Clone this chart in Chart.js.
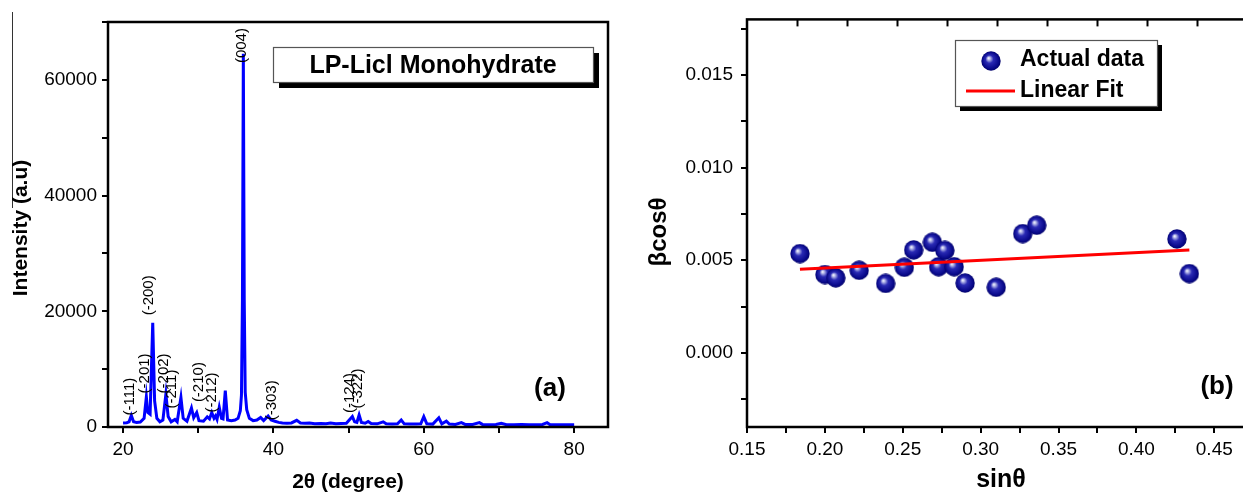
<!DOCTYPE html>
<html>
<head>
<meta charset="utf-8">
<script src="https://cdn.jsdelivr.net/npm/chart.js@4.4.1/dist/chart.umd.min.js"></script>
<style>
  html, body { margin: 0; padding: 0; background: #fff; overflow: hidden; }
  body { width: 1243px; height: 494px; position: relative; }
  #xrdChart { position: absolute; left: 0; top: 0; }
  #whChart { position: absolute; left: 620px; top: 0; }
  .edge-line { position: absolute; left: 12px; top: 12px; width: 1px; height: 196px; background: #333; }
</style>
</head>
<body>
<div class="edge-line"></div>
<canvas id="xrdChart" width="620" height="494"></canvas>
<canvas id="whChart" width="640" height="494"></canvas>
<script>
// XRD pattern (a)
const twoTheta = [
  20.0, 20.5, 20.8, 21.1, 21.4, 21.8, 22.3, 22.8, 23.1, 23.3, 23.6, 23.95, 24.2, 24.5, 24.9,
  25.3, 25.7, 26.0, 26.4, 26.9, 27.2, 27.7, 28.0, 28.5, 29.1, 29.4, 29.8, 30.1, 30.7, 31.2,
  31.5, 31.8, 32.1, 32.3, 32.5, 32.8, 33.1, 33.3, 33.6, 33.9, 34.4, 34.9, 35.3, 35.6, 35.75,
  35.88, 36.0, 36.12, 36.25, 36.45, 36.8, 37.3, 37.8, 38.3, 38.7, 39.3, 39.7, 40.2, 40.7, 41.2,
  41.8, 42.4, 43.1, 43.6, 44.2, 44.8, 45.5, 46.3, 47.0, 47.6, 48.3, 49.0, 49.7, 50.5, 50.8,
  51.1, 51.4, 51.7, 52.2, 52.6, 53.0, 53.8, 54.6, 55.0, 55.8, 56.5, 57.0, 57.4, 58.2, 59.0,
  59.6, 60.0, 60.4, 61.2, 62.0, 62.4, 63.0, 63.4, 64.2, 65.0, 65.5, 66.5, 67.4, 67.8, 68.8,
  69.6, 70.3, 71.0, 72.0, 73.0, 74.0, 75.0, 75.8, 76.4, 76.8, 77.5, 78.5, 79.5, 80.0
];
const intensity = [
  700, 750, 900, 2000, 900, 800, 850, 1500, 5200, 2500, 2200, 18000, 4500, 1500, 900,
  1200, 5700, 1800, 900, 1300, 900, 5100, 1500, 1000, 3300, 1600, 2500, 1100, 1000, 1750,
  1400, 2500, 1500, 1900, 1300, 3400, 1500, 1400, 6300, 1200, 1100, 1200, 1500, 2800, 5500,
  22000, 64500, 22000, 6000, 3000, 1500, 1100, 1200, 1650, 1100, 1900, 1200, 1000, 800, 700,
  650, 700, 1150, 700, 650, 700, 550, 600, 550, 700, 550, 600, 650, 1800, 900,
  800, 2100, 800, 650, 950, 600, 550, 900, 550, 500, 550, 1200, 550, 500, 500,
  550, 1800, 550, 500, 1600, 550, 1000, 500, 450, 750, 450, 450, 750, 450, 400,
  450, 650, 400, 400, 450, 400, 400, 450, 750, 400, 400, 400, 400, 400
];
const peakLabels = ['(-111)', '(-201)', '(-200)', '(-202)', '(-211)', '(-210)', '(-212)', '(004)', '(-303)', '(-124)', '(-322)'];
const peakLabelX = [20.9, 22.9, 23.4, 25.4, 26.5, 30.05, 31.8, 35.8, 39.8, 50.2, 51.2];
const peakLabelY = [2000, 5800, 19300, 5800, 3200, 4300, 2500, 62900, 1150, 2400, 3200];

// Williamson-Hall plot (b)
const sinTheta = [0.184, 0.200, 0.207, 0.222, 0.239, 0.251, 0.257, 0.269, 0.273, 0.277, 0.283, 0.290, 0.310, 0.327, 0.336, 0.426, 0.434];
const betaCosTheta = [0.00536, 0.00423, 0.00405, 0.00446, 0.00375, 0.00462, 0.00556, 0.00597, 0.00465, 0.00553, 0.00465, 0.00377, 0.00354, 0.00644, 0.00689, 0.00615, 0.00428];
const fitX = [0.184, 0.434];
const fitY = [0.00451, 0.00556];

const FONT = '"Liberation Sans", Arial, sans-serif';

function sphereImage(size) {
    const c = document.createElement('canvas');
    c.width = size; c.height = size;
    const g = c.getContext('2d');
    const r = size / 2;
    const grad = g.createRadialGradient(r * 0.75, r * 0.7, 0, r, r, r);
    grad.addColorStop(0, '#ffffff');
    grad.addColorStop(0.12, '#c8cbf0');
    grad.addColorStop(0.4, '#2a2ab4');
    grad.addColorStop(0.8, '#0a0a8c');
    grad.addColorStop(1, '#000066');
    g.fillStyle = grad;
    g.beginPath();
    g.arc(r, r, r - 0.3, 0, Math.PI * 2);
    g.fill();
    return c;
}
const sphere = sphereImage(20);

function axisBase(extra) {
    return Object.assign({
        type: 'linear',
        border: { display: false },
        grid: { drawOnChartArea: false, color: '#000', lineWidth: 2, tickLength: 6 },
    }, extra);
}

function tickFont() {
    return { family: FONT, size: 19 };
}

function shadowBox(ctx, x, y, w, h, off) {
    ctx.save();
    ctx.fillStyle = '#000';
    ctx.fillRect(x + off, y + off, w, h);
    ctx.fillStyle = '#fff';
    ctx.fillRect(x, y, w, h);
    ctx.strokeStyle = '#555';
    ctx.lineWidth = 1.2;
    ctx.strokeRect(x + 0.5, y + 0.5, w, h);
    ctx.restore();
}

function drawText(ctx, text, x, y, font, rot, align) {
    ctx.save();
    ctx.translate(x, y);
    if (rot) ctx.rotate(rot);
    ctx.font = font;
    ctx.fillStyle = '#000';
    ctx.textAlign = align || 'center';
    ctx.textBaseline = 'middle';
    ctx.fillText(text, 0, 0);
    ctx.restore();
}

const xrdDecor = {
    id: 'xrdDecor',
    afterDraw(chart) {
        const { ctx, chartArea: a, scales } = chart;
        ctx.save();
        ctx.strokeStyle = '#000';
        ctx.lineWidth = 2.5;
        ctx.strokeRect(a.left, a.top, a.right - a.left, a.bottom - a.top);
        ctx.restore();

        peakLabels.forEach((t, i) => {
            const px = scales.x.getPixelForValue(peakLabelX[i]);
            const py = scales.y.getPixelForValue(peakLabelY[i]);
            drawText(ctx, t, px, py, '15px ' + FONT, -Math.PI / 2, 'left');
        });

        shadowBox(ctx, 273, 47, 320, 35, 6);
        drawText(ctx, 'LP-Licl Monohydrate', 433, 66, 'bold 25px ' + FONT);
        drawText(ctx, '(a)', 550, 389, 'bold 26px ' + FONT);

        drawText(ctx, 'Intensity (a.u)', 21, 228, 'bold 21px ' + FONT, -Math.PI / 2);
        drawText(ctx, '2\u03b8 (degree)', 348, 482, 'bold 21px ' + FONT);
    }
};

new Chart(document.getElementById('xrdChart'), {
    type: 'scatter',
    data: {
        datasets: [{
            label: 'XRD',
            data: twoTheta.map((x, i) => ({ x, y: intensity[i] })),
            showLine: true,
            borderColor: '#0000ff',
            borderWidth: 3,
            pointRadius: 0,
            tension: 0
        }]
    },
    options: {
        responsive: false,
        animation: false,
        devicePixelRatio: 1,
        layout: { padding: { top: 22, right: 12, left: 0, bottom: 0 } },
        plugins: { legend: { display: false }, tooltip: { enabled: false } },
        scales: {
            x: axisBase({
                min: 18, max: 84.5,
                afterFit: s => { s.height = 67; },
                ticks: {
                    stepSize: 10, includeBounds: false, autoSkip: false, maxRotation: 0,
                    padding: 5, color: '#000', font: tickFont(),
                    callback: v => (v % 20 === 0 ? String(v) : '')
                }
            }),
            y: axisBase({
                min: 0, max: 70000,
                afterFit: s => { s.width = 108; },
                ticks: {
                    stepSize: 10000, includeBounds: false, autoSkip: false,
                    padding: 5, color: '#000', font: tickFont(),
                    callback: v => (v % 20000 === 0 ? String(v) : '')
                }
            })
        }
    },
    plugins: [xrdDecor]
});

const whDecor = {
    id: 'whDecor',
    afterDraw(chart) {
        const { ctx, chartArea: a, scales } = chart;
        ctx.save();
        ctx.strokeStyle = '#000';
        ctx.lineWidth = 2.5;
        ctx.strokeRect(a.left, a.top, a.right - a.left, a.bottom - a.top);
        ctx.lineWidth = 2;
        scales.x2.ticks.forEach(t => {
            if (t.value <= scales.x2.min || t.value >= scales.x2.max) return;
            const px = Math.round(scales.x2.getPixelForValue(t.value)) + 0.5;
            ctx.beginPath();
            ctx.moveTo(px, a.top);
            ctx.lineTo(px, a.top + 7);
            ctx.stroke();
        });
        ctx.restore();

        // legend
        shadowBox(ctx, 335, 40, 202, 66, 5);
        ctx.drawImage(sphere, 371 - sphere.width / 2, 61 - sphere.height / 2);
        ctx.save();
        ctx.strokeStyle = '#ff0000';
        ctx.lineWidth = 3;
        ctx.beginPath();
        ctx.moveTo(346, 91);
        ctx.lineTo(395, 91);
        ctx.stroke();
        ctx.restore();
        drawText(ctx, 'Actual data', 400, 60, 'bold 23px ' + FONT, 0, 'left');
        drawText(ctx, 'Linear Fit', 400, 91, 'bold 23px ' + FONT, 0, 'left');

        drawText(ctx, '(b)', 597, 387, 'bold 26px ' + FONT);
        drawText(ctx, '\u03b2cos\u03b8', 39, 232, 'bold 24px ' + FONT, -Math.PI / 2);
        drawText(ctx, 'sin\u03b8', 381, 480, 'bold 25px ' + FONT);
    }
};

new Chart(document.getElementById('whChart'), {
    type: 'scatter',
    data: {
        datasets: [
            {
                label: 'Linear Fit',
                data: fitX.map((x, i) => ({ x, y: fitY[i] })),
                showLine: true,
                borderColor: '#ff0000',
                borderWidth: 3,
                pointRadius: 0,
                order: 0
            },
            {
                label: 'Actual data',
                data: sinTheta.map((x, i) => ({ x, y: betaCosTheta[i] })),
                pointStyle: sphere,
                pointRadius: 10,
                order: 1
            }
        ]
    },
    options: {
        responsive: false,
        animation: false,
        devicePixelRatio: 1,
        layout: { padding: { top: 15, right: 13, left: 0, bottom: 0 } },
        plugins: { legend: { display: false }, tooltip: { enabled: false } },
        scales: {
            x: axisBase({
                min: 0.15, max: 0.471,
                afterFit: s => { s.height = 67; },
                ticks: {
                    stepSize: 0.025, includeBounds: false, autoSkip: false, maxRotation: 0,
                    padding: 5, color: '#000', font: tickFont(),
                    callback: v => (Math.round(v / 0.025) % 2 === 0 ? v.toFixed(2) : '')
                }
            }),
            x2: {
                type: 'linear', position: 'top', min: 0, max: 10,
                afterFit: s => { s.height = 0; },
                border: { display: false },
                grid: { display: false },
                ticks: { display: false, stepSize: 1 }
            },
            y: axisBase({
                min: -0.004, max: 0.018,
                afterFit: s => { s.width = 127; },
                ticks: {
                    stepSize: 0.0025, includeBounds: false, autoSkip: false,
                    padding: 8, color: '#000', font: tickFont(),
                    callback: v => (Math.round(v / 0.0025) % 2 === 0 ? v.toFixed(3) : '')
                }
            })
        }
    },
    plugins: [whDecor]
});
</script>
</body>
</html>
